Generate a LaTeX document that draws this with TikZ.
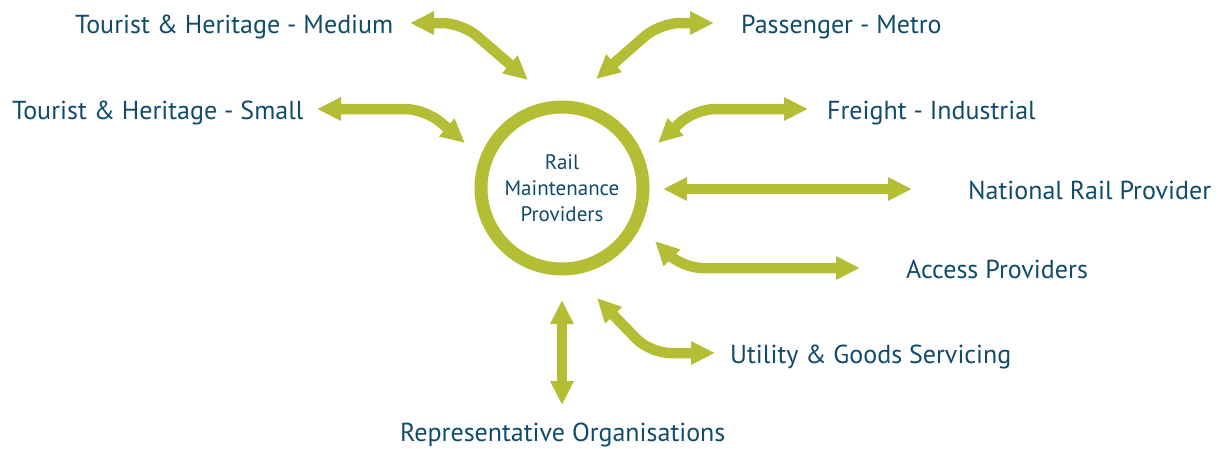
\documentclass[tikz,border=0pt]{standalone}
\usepackage{fontspec}
\setmainfont{PT Sans}
\usetikzlibrary{arrows.meta}
\definecolor{railgreen}{RGB}{180,190,52}
\definecolor{railblue}{RGB}{16,75,107}
\begin{document}
\begin{tikzpicture}[x=1pt,y=-1pt,
    link/.style={draw=railgreen, line width=10.5pt, rounded corners=20pt,
      {Triangle[width=22pt,length=24pt]}-{Triangle[width=22pt,length=24pt]}},
    lbl/.style={anchor=base west, inner sep=0pt, text=railblue, font=\fontsize{26}{30}\selectfont}]
  \useasboundingbox (0,0) rectangle (1227,448);
  % centre
  \node[circle, draw=railgreen, line width=13pt, minimum size=162pt, align=center,
    text=railblue, font=\fontsize{21}{26}\selectfont] (rmp) at (562,188) {Rail\\Maintenance\\Providers};
  % labels
  \node[lbl] (thm) at (75,33) {Tourist \& Heritage - Medium};
  \node[lbl] (ths) at (12,119) {Tourist \& Heritage - Small};
  \node[lbl] (pm) at (741,33) {Passenger - Metro};
  \node[lbl] (fi) at (827,119) {Freight - Industrial};
  \node[lbl] (nrp) at (968,199) {National Rail Provider};
  \node[lbl] (ap) at (906,278) {Access Providers};
  \node[lbl] (ugs) at (730,363) {Utility \& Goods Servicing};
  \node[lbl] (ro) at (400,441) {Representative Organisations};
  % arrow ends
  \coordinate (thm1) at (410,23);  \coordinate (thm2) at (528,80);
  \coordinate (ths1) at (317,109); \coordinate (ths2) at (465,143);
  \coordinate (pm1) at (714,23);   \coordinate (pm2) at (596,79);
  \coordinate (fi1) at (808,109);  \coordinate (fi2) at (658,143);
  \coordinate (nrp1) at (912,189); \coordinate (nrp2) at (663,189);
  \coordinate (ap1) at (860,268);  \coordinate (ap2) at (655,241);
  \coordinate (ugs1) at (715,353); \coordinate (ugs2) at (597,298);
  \coordinate (ro1) at (562,405);  \coordinate (ro2) at (562,300);
  % arrows
  \draw[link] (thm1) -- (462,23) -- (thm2);
  \draw[link] (ths1) -- (425,109) -- (ths2);
  \draw[link] (pm1) -- (660,23) -- (pm2);
  \draw[link] (fi1) -- (695,109) -- (fi2);
  \draw[link] (nrp1) -- (nrp2);
  \draw[link] (ap1) -- (682,268) -- (ap2);
  \draw[link] (ugs1) -- (650,353) -- (ugs2);
  \draw[link] (ro1) -- (ro2);
\end{tikzpicture}
\end{document}
